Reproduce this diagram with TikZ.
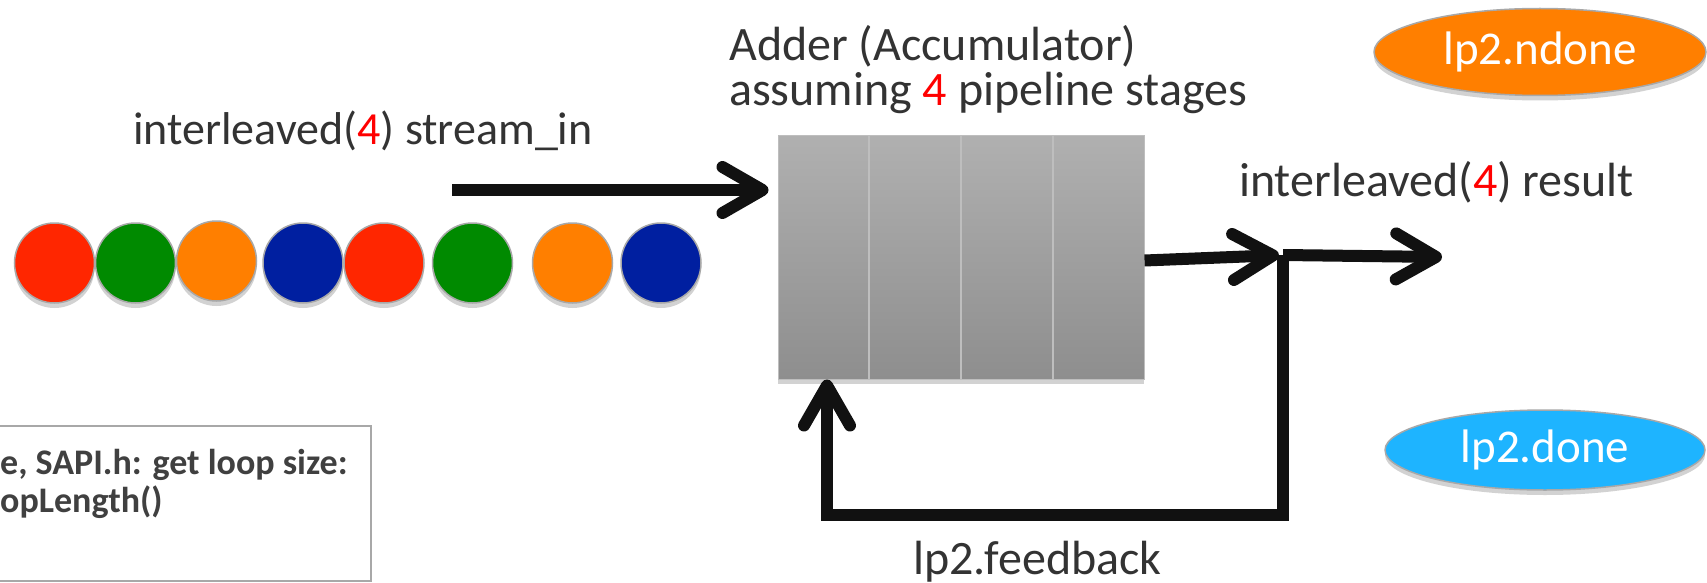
\documentclass[tikz,border=0pt]{standalone}
\usepackage{fontspec}
\setmainfont{Carlito}
\usetikzlibrary{arrows.meta,shapes.geometric,shadows,calc}
\definecolor{txt}{HTML}{333333}
\definecolor{notetxt}{HTML}{404040}
\definecolor{cred}{HTML}{FF2600}
\definecolor{cgreen}{HTML}{008A00}
\definecolor{corange}{HTML}{FF7F00}
\definecolor{cblue}{HTML}{001FA0}
\definecolor{csky}{HTML}{1EB4FF}
\definecolor{boxtop}{HTML}{B0B0B0}
\definecolor{boxbot}{HTML}{8E8E8E}
\definecolor{ink}{HTML}{111111}
\definecolor{rim}{HTML}{A8A8A8}
\definecolor{divider}{HTML}{BEBEBE}
\definecolor{redfour}{HTML}{FF0000}
\begin{document}
\begin{tikzpicture}[x=1pt,y=-1pt,
  lbl/.style={inner sep=0pt, anchor=base west, text=txt, font=\fontsize{48}{48}\selectfont},
  notelbl/.style={inner sep=0pt, anchor=base west, text=notetxt, font=\fontsize{36}{38}\selectfont\bfseries},
  softshadow/.style={drop shadow={opacity=0.35, shadow xshift=0pt, shadow yshift=-5pt}},
  bead/.style={circle, minimum size=80pt, inner sep=0pt, draw=rim, line width=1.5pt, softshadow},
  flag/.style={ellipse, inner sep=0pt, draw=rim, line width=1.5pt, text=white, font=\fontsize{47}{47}\selectfont, softshadow},
  flow/.style={draw=ink, line width=12pt},
  barbed/.style={-{Straight Barb[length=40pt,width=46pt,round]}},
]
\useasboundingbox (0,0) rectangle (1707,583);
\fill[white] (0,0) rectangle (1707,583);

% note box (clipped at the left)
\node (notebox) [draw=rim, line width=1.5pt, fill=white, minimum width=375pt, minimum height=155pt, inner sep=0pt, anchor=north west] at (-5,425) {};
\node (note1) [notelbl] at (0,474) {e, SAPI.h: get loop size:};
\node (note2) [notelbl] at (0,512) {opLength()};

% beads
\node (b1) [bead, fill=cred]    at (54.5,263) {};
\node (b2) [bead, fill=cgreen]  at (135.5,263) {};
\node (b3) [bead, fill=corange] at (216.5,261) {};
\node (b4) [bead, fill=cblue]   at (303,263) {};
\node (b5) [bead, fill=cred]    at (384,263) {};
\node (b6) [bead, fill=cgreen]  at (472.5,263) {};
\node (b7) [bead, fill=corange] at (572.5,263) {};
\node (b8) [bead, fill=cblue]   at (661,263) {};

% adder
\node (adder) [rectangle, minimum width=366pt, minimum height=243pt, inner sep=0pt,
  top color=boxtop, bottom color=boxbot, draw=divider, line width=1pt, softshadow] at (961,257.5) {};
\foreach \f in {0.25,0.5,0.75}{
  \draw[divider, line width=2pt] ($(adder.north west)!\f!(adder.north east)$) -- ($(adder.south west)!\f!(adder.south east)$);
}

% labels
\node (inlbl) [lbl, font=\fontsize{46}{46}\selectfont] at (133,145) {interleaved(\textcolor{redfour}{4}) stream\_in};
\node (addlbl1) [lbl] at (729,61) {Adder (Accumulator)};
\node (addlbl2) [lbl] at (729,106) {assuming \textcolor{redfour}{4} pipeline stages};
\node (reslbl) [lbl] at (1239,196) {interleaved(\textcolor{redfour}{4}) result};
\node (fblbl) [lbl] at (913,574) {lp2.feedback};

% flags
\node (ndone) [flag, fill=corange, minimum width=332pt, minimum height=87pt] at (1540,52) {lp2.ndone};
\node (done) [flag, fill=csky, minimum width=320pt, minimum height=80pt] at (1545,450) {lp2.done};

% connectors
\coordinate (sin) at (452,190);
\coordinate (J) at (1283,255);
\coordinate (res) at (1442,257);
\coordinate (fb) at (827,515);
\draw[flow,barbed,shorten >=9pt] (sin) -- (sin -| adder.west);
\draw[flow,barbed,shorten >=4pt] ([yshift=-3pt]adder.east) -- (J);
\draw[flow,barbed] (J) -- (res);
\draw[flow,barbed] (J) |- (fb) -- (fb |- adder.south);
\end{tikzpicture}
\end{document}
